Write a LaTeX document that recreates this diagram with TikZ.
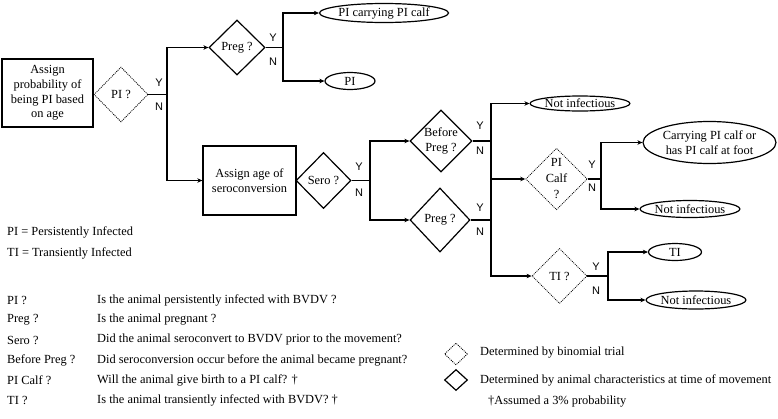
\documentclass[tikz,border=0pt]{standalone}
\usepackage{fontspec}
\setmainfont{Liberation Serif}
\newfontfamily\ynfont{Liberation Sans}
\usetikzlibrary{shapes.geometric,arrows.meta}
\begin{document}
\begin{tikzpicture}[x=1pt,y=-1pt,
  font=\fontsize{12.4}{14.8}\selectfont,
  conn/.style={line width=1.3pt},
  arr/.style={conn,-{Stealth[length=5pt,width=4.5pt,inset=1.5pt]}},
  pbox/.style={draw,line width=1.3pt,rectangle,align=center,inner sep=0pt},
  dsolid/.style={draw,diamond,line width=1.2pt,align=center,inner sep=0pt},
  ddot/.style={draw,diamond,line width=0.8pt,dash pattern=on 1pt off 1pt,align=center,inner sep=0pt},
  oval/.style={draw,ellipse,line width=1.2pt,align=center,inner sep=0pt},
  yn/.style={font=\ynfont\fontsize{11}{13}\selectfont,inner sep=0pt},
  lbl/.style={anchor=west,inner sep=0pt},
]
\useasboundingbox (0,0) rectangle (778,418);

% main chain
\node[pbox,minimum width=91pt,minimum height=68pt] (assign) at (47.5,93) {Assign\\probability of\\being PI based\\on age};
\node[ddot,minimum width=54pt,minimum height=55pt] (pi) at (121,94.5) {PI ?};
\node[dsolid,minimum width=56pt,minimum height=55pt] (preg1) at (237,47.5) {Preg ?};
\node[oval,minimum width=118pt,minimum height=19pt] (e1) at (384,13) {PI carrying PI calf};
\node[oval,minimum width=50pt,minimum height=17pt] (e2) at (350,81) {PI};
\node[pbox,minimum width=93pt,minimum height=69pt] (sbox) at (249.5,180.5) {Assign age of\\seroconversion};
\node[dsolid,minimum width=55pt,minimum height=56pt] (sero) at (323.5,180.5) {Sero ?};
\node[dsolid,minimum width=62pt,minimum height=62pt,font=\fontsize{12.4}{15}\selectfont] (before) at (441,141) {Before\\Preg ?};
\node[dsolid,minimum width=60pt,minimum height=64pt] (preg2) at (440,220) {Preg ?};
\node[oval,minimum width=95pt,minimum height=15pt] (ni1) at (580,103.5) {Not infectious};
\node[ddot,minimum width=53pt,minimum height=54pt,font=\fontsize{12.4}{16}\selectfont] (picalf) at (556.5,179) {PI\\Calf\\?};
\node[ddot,minimum width=55pt,minimum height=55pt] (ti) at (559.5,276) {TI ?};
\node[oval,minimum width=133pt,minimum height=42pt] (carry) at (709.5,142.5) {Carrying PI calf or\\has PI calf at foot};
\node[oval,minimum width=94pt,minimum height=17pt] (ni2) at (690,209) {Not infectious};
\node[oval,minimum width=53pt,minimum height=17pt] (tie) at (675,252) {TI};
\node[oval,minimum width=95pt,minimum height=18pt] (ni3) at (696,300) {Not infectious};

% junctions
\coordinate (t1) at (167,94.5);
\coordinate (t2) at (283,47.5);
\coordinate (t3) at (370,180.5);
\coordinate (t4a) at (491,141);
\coordinate (t4b) at (491,220);
\coordinate (t5) at (601,179);
\coordinate (t6) at (608,276);

\draw[conn] (pi.east) -- (t1);
\draw[arr] (t1) |- (preg1.west);
\draw[arr] (t1) |- (sbox.west);
\draw[conn] (preg1.east) -- (t2);
\draw[arr] (t2) |- (e1.west);
\draw[arr] (t2) |- (e2.west);
\draw[conn] (sero.east) -- (t3);
\draw[arr] (t3) |- (before.west);
\draw[arr] (t3) |- (preg2.west);
\draw[conn] (before.east) -- (t4a);
\draw[conn] (preg2.east) -- (t4b);
\draw[conn] (t4a) -- (t4b);
\draw[arr] (t4a) |- (ni1.west);
\draw[arr] (t4a) |- (picalf.west);
\draw[arr] (t4b) |- (ti.west);
\draw[conn] (picalf.east) -- (t5);
\draw[arr] (t5) |- (carry.west);
\draw[arr] (t5) |- (ni2.west);
\draw[conn] (ti.east) -- (t6);
\draw[arr] (t6) |- (tie.west);
\draw[arr] (t6) |- (ni3.west);

% Y/N labels
\node[yn] (y1) at (159,83) {Y};   \node[yn] (n1) at (159,107) {N};
\node[yn] (y2) at (273,38) {Y};   \node[yn] (n2) at (273,62) {N};
\node[yn] (y3) at (359,167) {Y};  \node[yn] (n3) at (359,193) {N};
\node[yn] (y4) at (480,126) {Y};  \node[yn] (n4) at (480,151) {N};
\node[yn] (y5) at (480,208) {Y};  \node[yn] (n5) at (480,232) {N};
\node[yn] (y6) at (592,165) {Y};  \node[yn] (n6) at (592,188) {N};
\node[yn] (y7) at (596,267) {Y};  \node[yn] (n7) at (596,291) {N};

% left legend
\node[lbl] (def1) at (7,232) {PI = Persistently Infected};
\node[lbl] (def2) at (7,253) {TI = Transiently Infected};
\node[lbl] (k1) at (7,300) {PI ?};
\node[lbl] (k2) at (7,320) {Preg ?};
\node[lbl] (k3) at (7,340) {Sero ?};
\node[lbl] (k4) at (7,360) {Before Preg ?};
\node[lbl] (k5) at (7,380) {PI Calf ?};
\node[lbl] (k6) at (7,400) {TI ?};
\node[lbl] (d1) at (97,300) {Is the animal persistently infected with BVDV ?};
\node[lbl] (d2) at (97,320) {Is the animal pregnant ?};
\node[lbl] (d3) at (97,340) {Did the animal seroconvert to BVDV prior to the movement?};
\node[lbl] (d4) at (97,360) {Did seroconversion occur before the animal became pregnant?};
\node[lbl] (d5) at (97,380) {Will the animal give birth to a PI calf? †};
\node[lbl] (d6) at (97,400) {Is the animal transiently infected with BVDV? †};

% right legend
\node[ddot,minimum width=23pt,minimum height=22pt] (lg1) at (456,354) {};
\node[dsolid,minimum width=23pt,minimum height=21pt] (lg2) at (456,380) {};
\node[lbl] (lt1) at (480,353) {Determined by binomial trial};
\node[lbl] (lt2) at (480,380) {Determined by animal characteristics at time of movement};
\node[lbl] (lt3) at (488,402) {†Assumed a 3\% probability};
\end{tikzpicture}
\end{document}
